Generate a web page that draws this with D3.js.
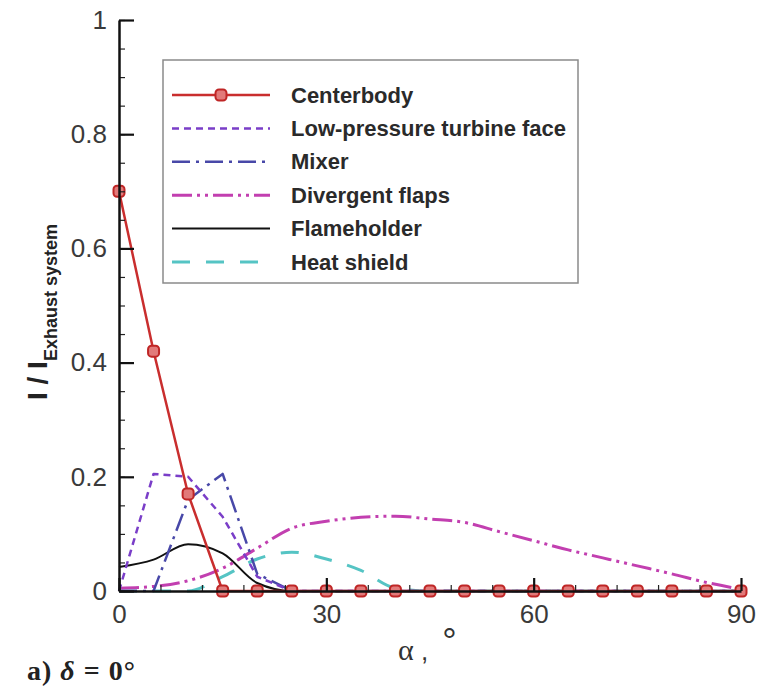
<!DOCTYPE html>
<html>
<head>
<meta charset="utf-8">
<script src="https://cdn.jsdelivr.net/npm/d3@7"></script>
<style>
  body { margin: 0; background: #fff; }
  svg { display: block; font-family: 'Liberation Sans', Arial, sans-serif; }
</style>
</head>
<body>
<svg id="chart" width="758" height="687"></svg>
<script>
// angle alpha (deg), sampled every 5 degrees
const alpha = [0, 5, 10, 15, 20, 25, 30, 35, 40, 45, 50, 55, 60, 65, 70, 75, 80, 85, 90];

const centerbody = [0.70, 0.42, 0.17, 0, 0, 0, 0, 0, 0, 0, 0, 0, 0, 0, 0, 0, 0, 0, 0];
const lptFace = [0.0, 0.205, 0.2, 0.13, 0.025, 0, 0, 0, 0, 0, 0, 0, 0, 0, 0, 0, 0, 0, 0];
const mixer = [0, 0.0, 0.16, 0.205, 0.03, 0, 0, 0, 0, 0, 0, 0, 0, 0, 0, 0, 0, 0, 0];
const divergentFlaps = [0.005, 0.008, 0.018, 0.04, 0.075, 0.11, 0.122, 0.129, 0.131, 0.126, 0.12, 0.104, 0.088, 0.072, 0.058, 0.044, 0.03, 0.015, 0.003];
const flameholder = [0.042, 0.055, 0.082, 0.066, 0.014, 0, 0, 0, 0, 0, 0, 0, 0, 0, 0, 0, 0, 0, 0];
const heatShield = [0, 0, 0, 0.025, 0.056, 0.068, 0.056, 0.036, 0.005, 0, 0, 0, 0, 0, 0, 0, 0, 0, 0];

const xTicks = [0, 30, 60, 90];
const yTicks = [0, 0.2, 0.4, 0.6, 0.8, 1];

const series = [
  { name: 'Centerbody', values: centerbody, color: '#c92e2e', dash: null, width: 2.5, marker: true, curve: d3.curveLinear },
  { name: 'Low-pressure turbine face', values: lptFace, color: '#7a3ec8', dash: '7,5', width: 2.5, curve: d3.curveLinear },
  { name: 'Mixer', values: mixer, color: '#4848a8', dash: '18,6,3,6', width: 2.5, curve: d3.curveLinear },
  { name: 'Divergent flaps', values: divergentFlaps, color: '#c23fb0', dash: '20,5,3,5,3,5', width: 3, curve: d3.curveMonotoneX },
  { name: 'Flameholder', values: flameholder, color: '#111', dash: null, width: 2, curve: d3.curveMonotoneX },
  { name: 'Heat shield', values: heatShield, color: '#55c4c4', dash: '18,16', width: 3, curve: d3.curveMonotoneX },
];

const cfg = {
  left: 119, right: 741, top: 20, bottom: 591,
  legend: { x: 163, y: 60, w: 415, h: 223, rowY: 95, rowStep: 33.4 },
};

const svg = d3.select('#chart');

const x = d3.scaleLinear().domain([0, 90]).range([cfg.left, cfg.right]);
const y = d3.scaleLinear().domain([0, 1]).range([cfg.bottom, cfg.top]);

// Curves
const plot = svg.append('g').attr('class', 'plot');

series.slice().reverse().forEach((s) => {
  const line = d3.line()
    .x((d, i) => x(alpha[i]))
    .y(d => y(d))
    .curve(s.curve);

  plot.append('path')
    .attr('d', line(s.values))
    .attr('fill', 'none')
    .attr('stroke', s.color)
    .attr('stroke-width', s.width)
    .attr('stroke-dasharray', s.dash)
    .attr('stroke-linejoin', 'round');
});

// Minor ticks
svg.append('g')
  .attr('transform', `translate(0,${cfg.bottom})`)
  .call(d3.axisBottom(x).tickValues(d3.range(0, 91, 6)).tickSize(-6).tickFormat(''))
  .call(g => g.select('.domain').remove())
  .selectAll('line').attr('stroke', '#222').attr('stroke-width', 1.2);

svg.append('g')
  .attr('transform', `translate(${cfg.left},0)`)
  .call(d3.axisLeft(y).ticks(20).tickSize(-6).tickFormat(''))
  .call(g => g.select('.domain').remove())
  .selectAll('line').attr('stroke', '#222').attr('stroke-width', 1.2);

// Major axes
const xAxis = svg.append('g')
  .attr('transform', `translate(0,${cfg.bottom})`)
  .call(d3.axisBottom(x).tickValues(xTicks).tickSize(-13).tickSizeOuter(0).tickPadding(14)
    .tickFormat(d3.format('d')));

const yAxis = svg.append('g')
  .attr('transform', `translate(${cfg.left},0)`)
  .call(d3.axisLeft(y).tickValues(yTicks).tickSize(-15).tickSizeOuter(0).tickPadding(12)
    .tickFormat(d => String(+d.toFixed(1))));

[xAxis, yAxis].forEach((ax) => {
  ax.select('.domain').attr('stroke', '#111').attr('stroke-width', 2.5);
  ax.selectAll('.tick line').attr('stroke', '#111').attr('stroke-width', 2.2);
  ax.selectAll('.tick text')
    .attr('fill', '#3a3a3a')
    .style('font-size', '26px')
    .style('font-family', "'Liberation Sans', Arial, sans-serif");
});

// Centerbody markers on top
const cb = series[0];
plot.append('g')
  .selectAll('rect')
  .data(cb.values)
  .enter()
  .append('rect')
  .attr('x', (d, i) => x(alpha[i]) - 5.5)
  .attr('y', d => y(d) - 5.5)
  .attr('width', 11)
  .attr('height', 11)
  .attr('rx', 3.5)
  .attr('fill', '#e27a7a')
  .attr('stroke', '#bf2626')
  .attr('stroke-width', 2);

// Legend
const lg = svg.append('g').attr('class', 'legend');
lg.append('rect')
  .attr('x', cfg.legend.x)
  .attr('y', cfg.legend.y)
  .attr('width', cfg.legend.w)
  .attr('height', cfg.legend.h)
  .attr('fill', '#fff')
  .attr('stroke', '#8a8a8a')
  .attr('stroke-width', 1.5);

const rows = lg.selectAll('.row')
  .data(series)
  .enter()
  .append('g')
  .attr('class', 'row')
  .attr('transform', (d, i) => `translate(0,${cfg.legend.rowY + i * cfg.legend.rowStep})`);

rows.append('line')
  .attr('x1', 172)
  .attr('x2', 270)
  .attr('stroke', d => d.color)
  .attr('stroke-width', d => d.width)
  .attr('stroke-dasharray', d => d.dash);

rows.filter(d => d.marker)
  .append('rect')
  .attr('x', 215.5)
  .attr('y', -5.5)
  .attr('width', 11)
  .attr('height', 11)
  .attr('rx', 3.5)
  .attr('fill', '#e27a7a')
  .attr('stroke', '#bf2626')
  .attr('stroke-width', 2);

rows.append('text')
  .attr('x', 291)
  .attr('y', 7.5)
  .style('font-size', '22px')
  .style('font-weight', 'bold')
  .attr('fill', '#2a2a2a')
  .text(d => d.name);

// Y axis title
const yTitle = svg.append('text')
  .attr('transform', 'translate(47,400) rotate(-90)')
  .attr('fill', '#222')
  .style('font-weight', 'bold');
yTitle.append('tspan').style('font-size', '28px').text('I / I');
yTitle.append('tspan').style('font-size', '18px').attr('dy', 10).text('Exhaust system');

// X axis title
const xTitle = svg.append('text')
  .attr('x', 398)
  .attr('y', 660)
  .attr('fill', '#333');
xTitle.append('tspan').style('font-family', "'Liberation Serif', serif").style('font-size', '30px').text('α');
xTitle.append('tspan').style('font-size', '26px').text(' ,');
xTitle.append('tspan').style('font-size', '36px').attr('dx', 14).attr('dy', -6).text('°');

// Panel caption
const cap = svg.append('text')
  .attr('x', 27)
  .attr('y', 680)
  .attr('fill', '#222')
  .style('font-family', "'Liberation Serif', 'Times New Roman', serif")
  .style('font-size', '28px')
  .style('font-weight', 'bold')
  .style('letter-spacing', '1px');
cap.append('tspan').text('a) ');
cap.append('tspan').style('font-style', 'italic').text('δ');
cap.append('tspan').text(' = 0°');
</script>
</body>
</html>
